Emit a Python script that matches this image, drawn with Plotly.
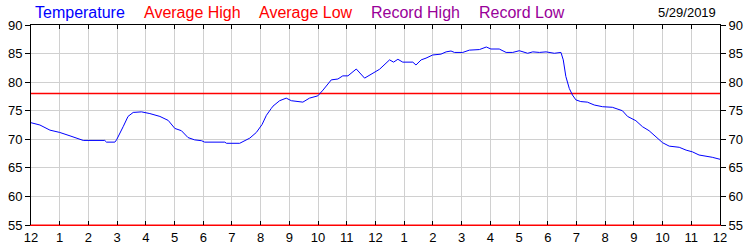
import plotly.graph_objects as go

# Hours since midnight and temperature (°F)
hours = [0.00, 0.31, 0.66, 1.00, 1.36, 1.70, 1.82, 2.57, 2.63, 2.92, 2.98, 3.21, 3.38, 3.56, 3.85,
         4.14, 4.49, 4.78, 5.01, 5.24, 5.47, 5.70, 5.94, 6.05, 6.75, 6.81, 7.27, 7.62, 7.85, 8.05,
         8.20, 8.37, 8.43, 8.66, 8.89, 9.07, 9.47, 9.70, 9.99, 10.17, 10.46, 10.69, 10.86, 11.04,
         11.33, 11.62, 11.97, 12.14, 12.49, 12.63, 12.78, 12.95, 13.30, 13.41, 13.59, 13.76, 13.99,
         14.28, 14.46, 14.63, 14.75, 15.04, 15.27, 15.62, 15.86, 16.02, 16.31, 16.55, 16.78, 17.01,
         17.30, 17.48, 17.71, 17.94, 18.23, 18.46, 18.54, 18.63, 18.75, 18.86, 18.98, 19.15, 19.38,
         19.62, 19.91, 20.25, 20.60, 20.78, 21.07, 21.30, 21.53, 21.77, 22.00, 22.23, 22.58, 22.82,
         23.04, 23.27, 23.50, 23.73, 24.00]
temperature = [72.9, 72.5, 71.6, 71.2, 70.6, 70.0, 69.8, 69.8, 69.5, 69.5, 69.9, 72.2, 74.0, 74.7, 74.8,
               74.5, 74.0, 73.3, 71.9, 71.5, 70.3, 69.9, 69.75, 69.5, 69.5, 69.3, 69.3, 70.2, 71.2, 72.6,
               74.2, 75.4, 75.8, 76.75, 77.2, 76.75, 76.5, 77.2, 77.6, 78.6, 80.4, 80.55, 81.1, 81.1,
               82.3, 80.7, 81.7, 82.25, 83.9, 83.5, 84.0, 83.5, 83.5, 83.0, 83.9, 84.2, 84.75,
               84.9, 85.3, 85.45, 85.2, 85.2, 85.6, 85.7, 86.15, 85.8, 85.8, 85.2, 85.2, 85.5,
               85.05, 85.3, 85.2, 85.3, 85.05, 85.2, 83.9, 81.0, 78.9, 77.75, 76.9, 76.6, 76.5,
               76.0, 75.7, 75.6, 75.0, 74.0, 73.25, 72.2, 71.5, 70.45, 69.4, 68.8, 68.6, 68.1,
               67.8, 67.25, 67.1, 66.85, 66.5]

avg_hours = [0, 24]
avg_high = [78, 78]
avg_low = [55, 55]

x_tickvals = list(range(0, 25))
x_ticktext = ["12", "1", "2", "3", "4", "5", "6", "7", "8", "9", "10", "11",
              "12", "1", "2", "3", "4", "5", "6", "7", "8", "9", "10", "11", "12"]
y_tickvals = [55, 60, 65, 70, 75, 80, 85, 90]

legend_items = ["Temperature", "Average High", "Average Low", "Record High", "Record Low"]
legend_colors = ["#0000ff", "#ff0000", "#ff0000", "#990099", "#990099"]
legend_px = [33, 142, 257, 369, 477]
date_text = "5/29/2019"

FONT = "Liberation Sans, Arial, sans-serif"
L, R, T, B = 31, 30, 25, 25
W, H = 750, 250
pw = W - L - R
ph = H - T - B

fig = go.Figure()
fig.add_trace(go.Scatter(x=avg_hours, y=avg_low, mode="lines",
                         line=dict(color="#ff0000", width=1), hoverinfo="skip", showlegend=False))
fig.add_trace(go.Scatter(x=avg_hours, y=avg_high, mode="lines",
                         line=dict(color="#ff0000", width=1.5), hoverinfo="skip", showlegend=False))
fig.add_trace(go.Scatter(x=hours, y=temperature, mode="lines",
                         line=dict(color="#0000ff", width=1), hoverinfo="skip", showlegend=False))
# dummy trace for right axis and top axis
fig.add_trace(go.Scatter(x=[None], y=[None], xaxis="x2", yaxis="y2", showlegend=False, hoverinfo="skip"))

tickfont = dict(family=FONT, size=13, color="#000000")
fig.update_layout(
    width=W, height=H,
    margin=dict(l=L, r=R, t=T, b=B, pad=0, autoexpand=False),
    paper_bgcolor="white", plot_bgcolor="white",
    xaxis=dict(range=[0, 24], tickvals=x_tickvals, ticktext=x_ticktext, automargin=False,
               showgrid=True, gridcolor="#d0d0d0", gridwidth=1, zeroline=False,
               showline=True, linecolor="#ff0000", linewidth=1,
               ticks="inside", ticklen=4, tickcolor="#000000", tickfont=tickfont),
    xaxis2=dict(range=[0, 24], tickvals=x_tickvals, overlaying="x", side="top", automargin=False,
                showgrid=False, zeroline=False, showticklabels=False,
                showline=True, linecolor="#000000", linewidth=1,
                ticks="inside", ticklen=4, tickcolor="#000000"),
    yaxis=dict(range=[55, 90], tickvals=y_tickvals, showgrid=True, gridcolor="#d0d0d0", automargin=False,
               gridwidth=1, zeroline=False, showline=True, linecolor="#000000", linewidth=1,
               ticks="outside", ticklen=5, tickcolor="#000000", tickfont=tickfont),
    yaxis2=dict(range=[55, 90], tickvals=y_tickvals, overlaying="y", side="right", automargin=False,
                showgrid=False, zeroline=False, showline=True, linecolor="#000000", linewidth=1,
                ticks="outside", ticklen=5, tickcolor="#000000", tickfont=tickfont),
    showlegend=False,
)

annotations = []
for name, color, px in zip(legend_items, legend_colors, legend_px):
    annotations.append(dict(text=name, x=(px - L) / pw, y=1 + (T - 13) / ph,
                            xref="paper", yref="paper", xanchor="left", yanchor="middle",
                            showarrow=False, font=dict(family=FONT, size=16, color=color)))
annotations.append(dict(text=date_text, x=(718 - L) / pw, y=1 + (T - 13) / ph,
                        xref="paper", yref="paper", xanchor="right", yanchor="middle",
                        showarrow=False, font=dict(family=FONT, size=13, color="#000000")))
fig.update_layout(annotations=annotations)

fig.write_html("out.html")
